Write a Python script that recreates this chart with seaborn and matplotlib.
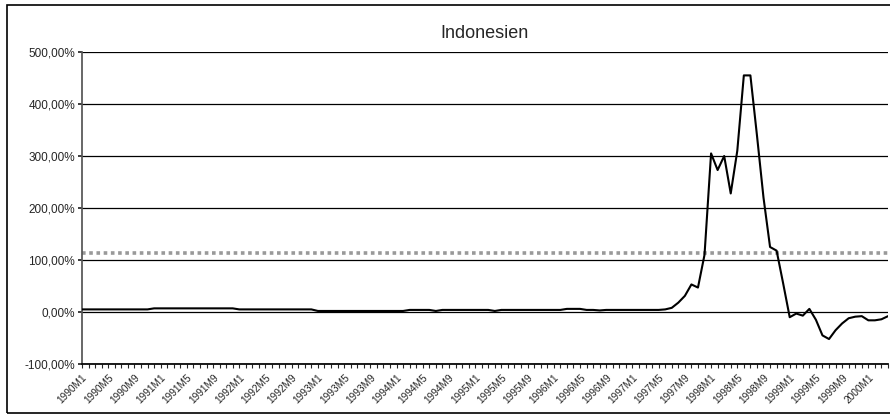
import numpy as np
import pandas as pd
import matplotlib
matplotlib.use('Agg')
import matplotlib.pyplot as plt
import seaborn as sns
from matplotlib.ticker import FuncFormatter
from matplotlib.patches import Rectangle

# monthly values (%) 1990M1 .. 2000M4
years = list(range(1990, 2001))
periods = [f'{y}M{m}' for y in years for m in range(1, 13)][:124]

values = (
    [5] * 11 + [7] * 13 + [5] * 12 + [2] * 14
    + [4, 4, 4, 4, 2, 4, 4, 4, 4, 4, 4, 4, 4, 2]
    + [4, 4, 4, 4, 4, 4, 4, 4, 4, 4, 6, 6, 6, 4, 4, 3]
    + [4, 4, 4, 4, 4, 4, 4, 4, 4, 5]
    + [8, 18, 31, 53, 47, 110, 305, 273, 300, 228, 310, 455, 455, 340,
       220, 125, 118, 55, -10, -3, -7, 6, -15, -45, -52, -35, -22, -12,
       -9, -8, -16, -16, -14, -8]
)
threshold = 114

df = pd.DataFrame({'idx': np.arange(len(values)), 'value': values})

sns.set_theme(style='white')
plt.rcParams['font.family'] = ['Liberation Sans', 'DejaVu Sans']

fig = plt.figure(figsize=(8.9, 4.15), dpi=100)
ax = fig.add_axes([82 / 890, 1 - 364 / 415, 806 / 890, 312 / 415])

for v in range(-100, 600, 100):
    ax.axhline(v, color='black', lw=0.9, zorder=1)

ax.axhline(threshold, color='#999999', lw=2.6, ls=(0, (1, 1)), zorder=2)
sns.lineplot(data=df, x='idx', y='value', color='black', lw=1.5, ax=ax, zorder=3)

ax.set_ylim(-100, 500)
ax.set_xlim(0, len(values) - 1)
ax.set_yticks(range(-100, 600, 100))
ax.yaxis.set_major_formatter(FuncFormatter(lambda v, p: f'{v:.2f}%'.replace('.', ',')))
ax.tick_params(axis='y', labelsize=8.5, length=3, direction='out', left=True, pad=2)

ax.set_xticks(df['idx'])
ax.set_xticklabels([p if i % 4 == 0 else '' for i, p in enumerate(periods)],
                   rotation=45, ha='right', rotation_mode='anchor', fontsize=7.3)
ax.tick_params(axis='x', length=3, direction='out', bottom=True, pad=3, width=0.8)

for s in ['top', 'right']:
    ax.spines[s].set_visible(False)
ax.spines['left'].set_color('#555555')
ax.spines['bottom'].set_color('black')
ax.set_xlabel('')
ax.set_ylabel('')
ax.set_title('Indonesien', fontsize=13, pad=10)

fig.patches.append(Rectangle((7 / 890, 2 / 415), 885 / 890, 408 / 415,
                             transform=fig.transFigure, fill=False,
                             edgecolor='black', lw=1.2))

fig.savefig('out.png', dpi=100)
